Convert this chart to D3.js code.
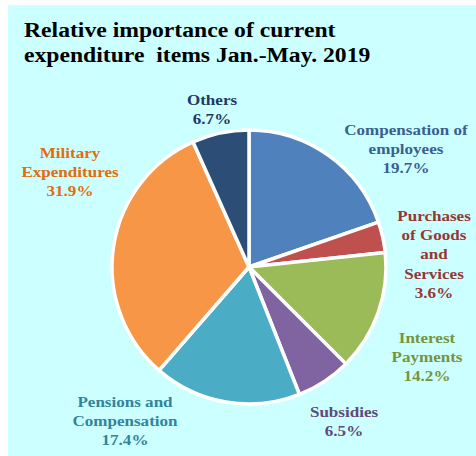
<!DOCTYPE html>
<html>
<head>
<meta charset="utf-8">
<script src="https://cdn.jsdelivr.net/npm/d3@7"></script>
<style>
  html, body { margin: 0; padding: 0; background: #ffffff; }
  svg { display: block; }
  text { font-family: "Liberation Serif", "Times New Roman", serif; font-weight: bold; }
</style>
</head>
<body>
<svg id="chart" width="476" height="456"></svg>
<script>
// Current expenditure shares, clockwise from 12 o'clock
const categories = [
  "Compensation of employees",
  "Purchases of Goods and Services",
  "Interest Payments",
  "Subsidies",
  "Pensions and Compensation",
  "Military Expenditures",
  "Others"
];
const shares = [19.7, 3.6, 14.2, 6.5, 17.4, 31.9, 6.7];

// Label lines (percentage appended from the shares)
const labelLines = [
  ["Compensation of", "employees"],
  ["Purchases", "of Goods", "and", "Services"],
  ["Interest", "Payments"],
  ["Subsidies"],
  ["Pensions and", "Compensation"],
  ["Military", "Expenditures"],
  ["Others"]
];

const titleLines = ["Relative importance of current", "expenditure  items Jan.-May. 2019"];

// Styling
const sliceColors = ["#4f81bd", "#c0504d", "#9bbb59", "#8064a2", "#4bacc6", "#f79646", "#2c4d75"];
const labelColors = ["#3a5f92", "#953735", "#77933c", "#604a7b", "#31849b", "#e46c0a", "#1f3864"];
// Label anchor: centre x and first baseline y
const labelAnchors = [
  [406, 135], [434, 221], [427, 343], [344, 417], [125, 407], [70, 158], [212, 105]
];
const lineHeight = 19.2;
const textStretch = 1.1; // wide-set lettering

const svg = d3.select("#chart");

// Panel background
svg.append("rect")
  .attr("x", 8).attr("y", 5)
  .attr("width", 468).attr("height", 451)
  .attr("fill", "#ccffff");

// Title
const title = svg.append("g")
  .attr("transform", `translate(24,37) scale(${textStretch},1)`)
  .append("text")
  .attr("x", 0).attr("y", 0)
  .attr("font-size", 21.5)
  .attr("fill", "#000")
  .style("white-space", "pre");
titleLines.forEach((t, i) => {
  title.append("tspan").attr("x", 0).attr("dy", i === 0 ? 0 : 25).text(t);
});

// Pie
const cx = 249, cy = 267, radius = 137;
const pie = d3.pie().sort(null).value(d => d)
  .startAngle(0).endAngle(2 * Math.PI);
const arc = d3.arc().innerRadius(0).outerRadius(radius);

const g = svg.append("g").attr("transform", `translate(${cx},${cy})`);
g.selectAll("path")
  .data(pie(shares))
  .join("path")
  .attr("d", arc)
  .attr("fill", (d, i) => sliceColors[i])
  .attr("stroke", "#ffffff")
  .attr("stroke-width", 3.5)
  .attr("stroke-linejoin", "round");

// Labels
const fmt = d3.format(".1f");
categories.forEach((c, i) => {
  const [lx, ly] = labelAnchors[i];
  const lines = labelLines[i].concat([fmt(shares[i]) + "%"]);
  const t = svg.append("g")
    .attr("transform", `translate(${lx},${ly}) scale(${textStretch},1)`)
    .append("text")
    .attr("x", 0).attr("y", 0)
    .attr("text-anchor", "middle")
    .attr("font-size", 15.5)
    .attr("fill", labelColors[i]);
  lines.forEach((s, j) => {
    t.append("tspan").attr("x", 0).attr("dy", j === 0 ? 0 : lineHeight).text(s);
  });
});
</script>
</body>
</html>
